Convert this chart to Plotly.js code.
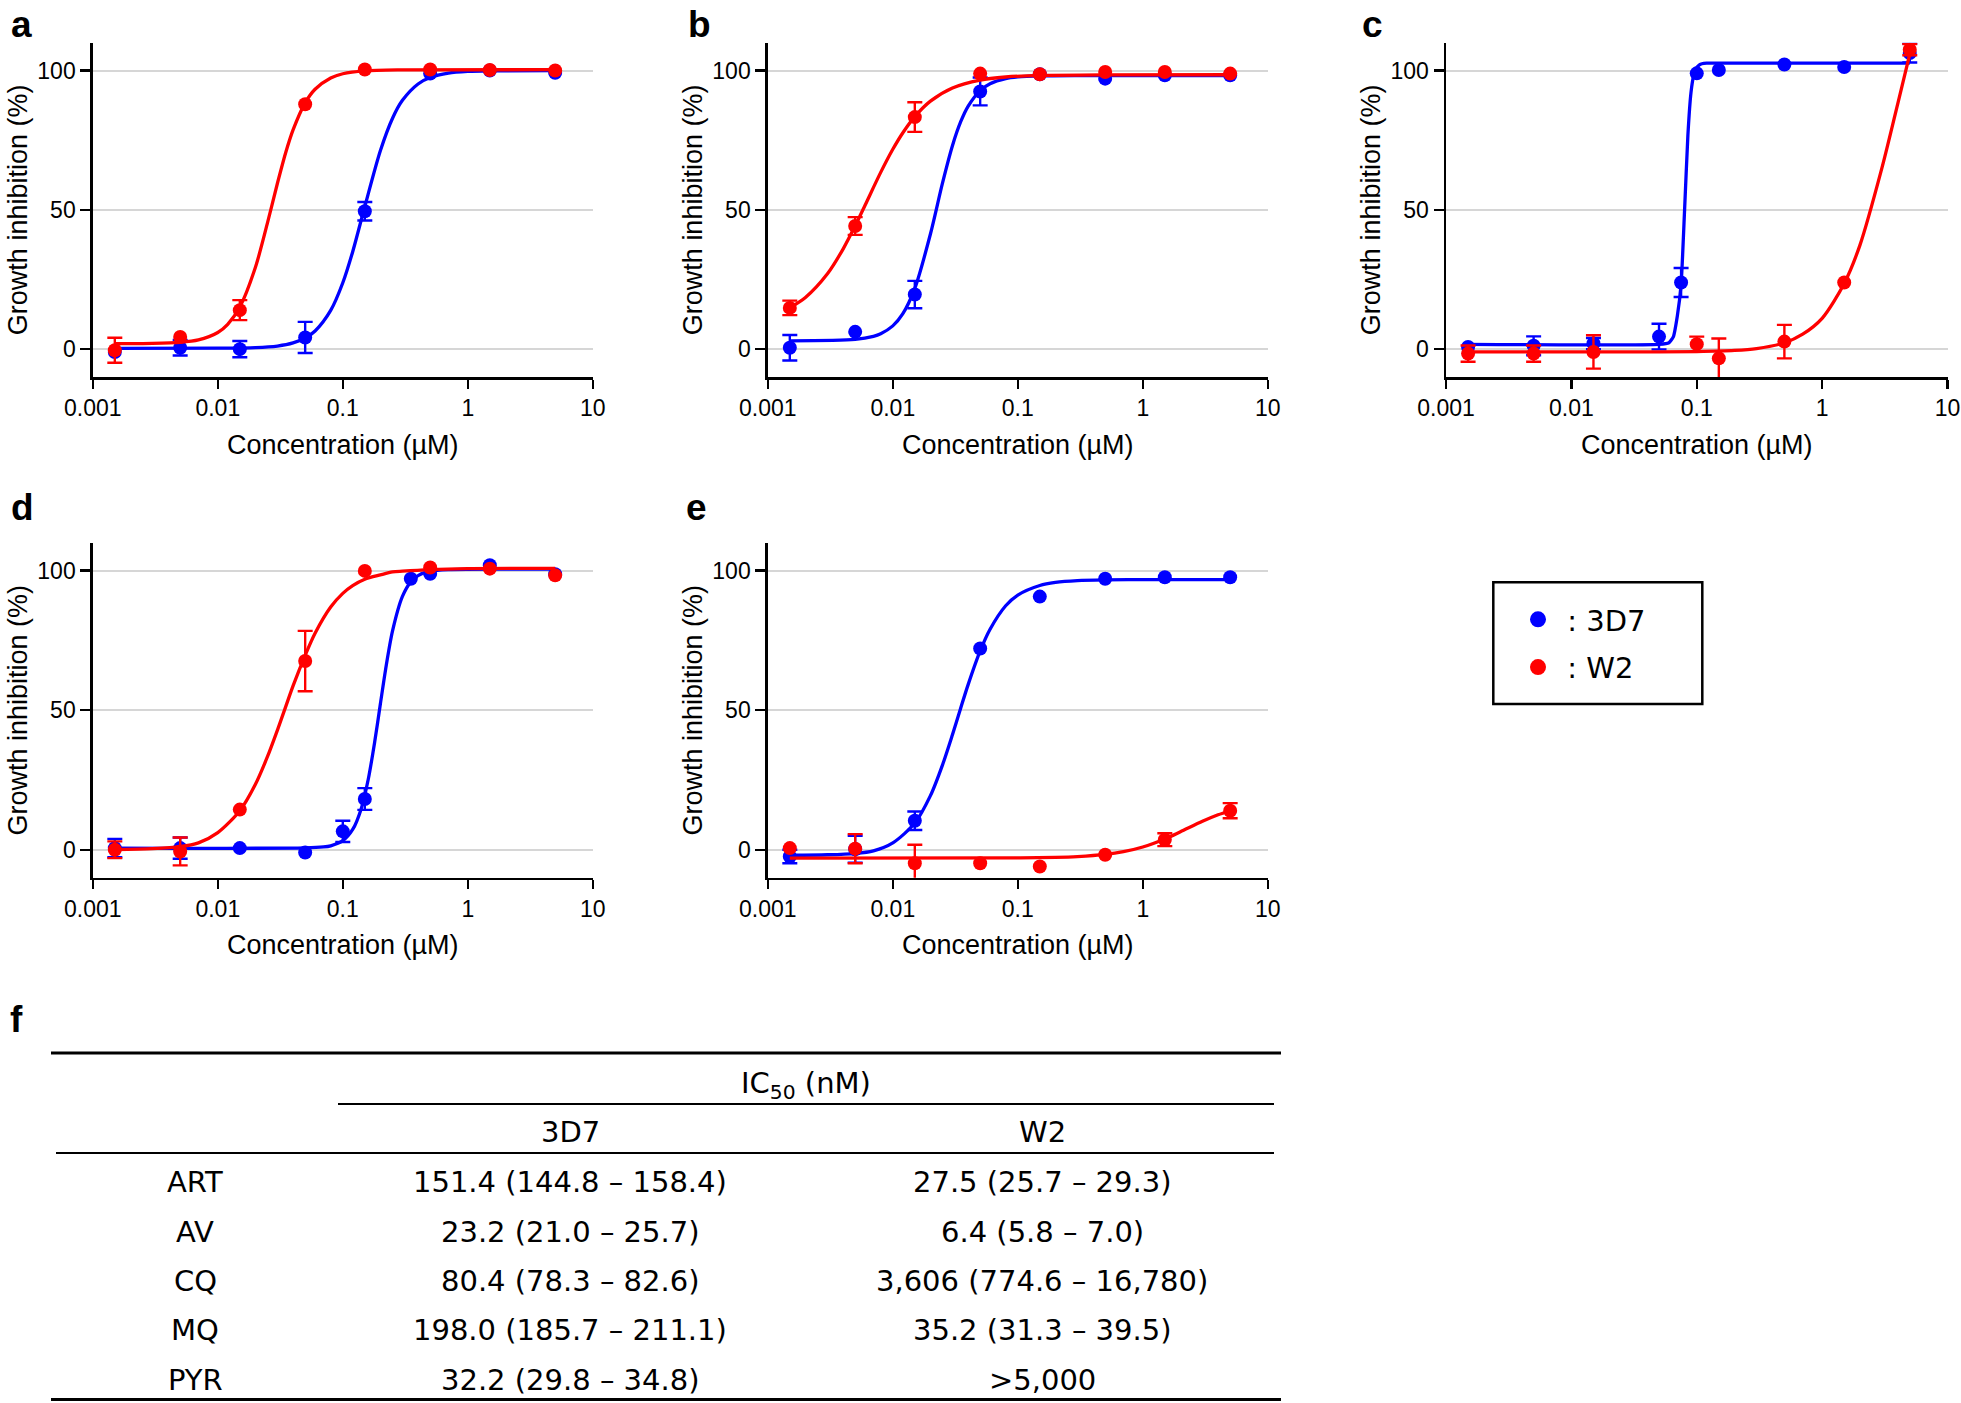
<!DOCTYPE html>
<html>
<head>
<meta charset="utf-8">
<script src="https://cdn.plot.ly/plotly-3.0.1.min.js"></script>
<style>
html,body{margin:0;padding:0;background:#ffffff;}
#chart{width:1961px;height:1403px;}
</style>
</head>
<body>
<div id="chart"></div>
<script>
// ===================== DATA =====================
const strains = ['3D7', 'W2'];
const conc = [0.0015, 0.005, 0.015, 0.05, 0.15, 0.5, 1.5, 5];

// a: ART
const art3D7 = [-1, 0.5, 0, 4.2, 49.5, 98.9, 100, 99.2];
const art3D7Err = [NaN, 2.8, 2.9, 5.6, 3.3, NaN, NaN, NaN];
const artW2 = [-0.4, 4.4, 14.0, 87.9, 100.4, 100.4, 100.2, 100];
const artW2Err = [4.5, NaN, 3.6, NaN, NaN, NaN, NaN, NaN];
const fitXart3D7 = [0.0015, 0.01, 0.02, 0.03, 0.04, 0.05, 0.06, 0.08, 0.1, 0.12, 0.15, 0.2, 0.25, 0.3, 0.4, 0.5, 0.7, 1, 1.5, 5];
const fitYart3D7 = [0.3, 0.33, 0.55, 1.12, 2.23, 4.01, 6.53, 13.91, 23.84, 34.98, 51.19, 71.29, 82.9, 89.32, 95.19, 97.48, 99.07, 99.68, 99.9, 100];
const fitXartW2 = [0.0015, 0.003, 0.005, 0.007, 0.01, 0.012, 0.015, 0.02, 0.025, 0.03, 0.035, 0.04, 0.05, 0.06, 0.08, 0.1, 0.15, 0.3, 5];
const fitYartW2 = [2.0, 2.09, 2.45, 3.30, 5.97, 8.88, 15.10, 29.40, 45.40, 59.55, 70.67, 78.69, 88.41, 93.28, 97.33, 98.85, 99.9, 100.25, 100.3];

// b: AV
const av3D7 = [0.5, 6.2, 19.6, 92.5, 98.7, 97.1, 98.3, 98.3];
const av3D7Err = [4.6, NaN, 4.9, 5.0, NaN, NaN, NaN, NaN];
const avW2 = [14.8, 44.2, 83.3, 98.9, 98.7, 99.5, 99.5, 98.9];
const avW2Err = [2.6, 3.2, 5.3, NaN, NaN, NaN, NaN, NaN];
const fitXav3D7 = [0.0015, 0.005, 0.007, 0.008, 0.01, 0.012, 0.015, 0.02, 0.025, 0.03, 0.035, 0.04, 0.05, 0.06, 0.08, 0.1, 0.15, 0.3, 5];
const fitYav3D7 = [3.0, 3.5, 4.6, 5.52, 8.35, 12.63, 21.8, 41.33, 59.70, 73.04, 81.72, 87.16, 92.81, 95.27, 97.11, 97.7, 98.07, 98.2, 98.2];
const fitXavW2 = [0.0015, 0.002, 0.003, 0.004, 0.005, 0.006, 0.008, 0.01, 0.012, 0.015, 0.02, 0.03, 0.05, 0.08, 0.15, 0.5, 5];
const fitYavW2 = [14.87, 18.55, 27.05, 35.92, 44.26, 51.66, 63.45, 71.74, 77.6, 83.49, 89.03, 93.77, 96.6, 97.69, 98.25, 98.48, 98.5];

// c: CQ
const cqConc3D7 = [0.0015, 0.005, 0.015, 0.05, 0.075, 0.1, 0.15, 0.5, 1.5, 5];
const cq3D7 = [0.8, 1.2, 2.0, 4.5, 23.9, 99.0, 100.2, 102.2, 101.3, 106.3];
const cq3D7Err = [NaN, 3.4, 2.0, 4.6, 5.2, NaN, NaN, NaN, NaN, 3.4];
const cqConcW2 = [0.0015, 0.005, 0.015, 0.1, 0.15, 0.5, 1.5, 5];
const cqW2 = [-1.6, -1.6, -1.0, 1.8, -3.3, 2.7, 23.9, 107.5];
const cqW2Err = [2.9, 2.9, 6.0, 2.7, 7.1, 6.0, NaN, 2.0];
const fitXcq3D7 = [0.0015, 0.05, 0.06, 0.065, 0.07, 0.075, 0.08, 0.085, 0.09, 0.095, 0.1, 0.105, 0.11, 0.12, 0.15, 5];
const fitYcq3D7 = [1.7, 1.7, 2.3, 4.4, 11.93, 23.19, 50.1, 76.84, 92.19, 98.67, 101.14, 102.08, 102.44, 102.65, 102.7, 102.7];
const fitXcqW2 = [0.0015, 0.05, 0.1, 0.2, 0.3, 0.5, 0.7, 1, 1.5, 2, 3, 4, 5];
const fitYcqW2 = [-1.0, -0.96, -0.86, -0.46, 0.21, 2.26, 5.37, 11.06, 23.58, 37.25, 65.05, 87.88, 105.88];

// d: MQ
const mqConc3D7 = [0.0015, 0.005, 0.015, 0.05, 0.1, 0.15, 0.35, 0.5, 1.5, 5];
const mq3D7 = [0.6, 0.6, 0.6, -1.0, 6.6, 18.2, 97.1, 98.9, 101.9, 98.7];
const mq3D7Err = [3.3, 3.8, NaN, NaN, 3.8, 3.9, NaN, NaN, NaN, NaN];
const mqW2 = [0, -0.6, 14.4, 67.6, 99.9, 101.1, 100.7, 98.3];
const mqW2Err = [3.0, 5.0, NaN, 10.8, NaN, NaN, NaN, NaN];
const fitXmq3D7 = [0.0015, 0.05, 0.07, 0.08, 0.1, 0.12, 0.14, 0.16, 0.18, 0.2, 0.22, 0.25, 0.3, 0.35, 0.4, 0.5, 0.7, 5];
const fitYmq3D7 = [0.6, 0.67, 1.01, 1.43, 3.26, 7.27, 14.56, 25.37, 38.67, 52.38, 64.61, 78.38, 90.74, 95.95, 98.2, 99.78, 100.38, 100.5];
const fitXmqW2 = [0.0015, 0.003, 0.005, 0.007, 0.01, 0.015, 0.02, 0.025, 0.03, 0.035, 0.04, 0.05, 0.06, 0.08, 0.1, 0.12, 0.15, 0.2, 0.25, 0.3, 0.5, 1, 5];
const fitYmqW2 = [0.09, 0.42, 1.12, 2.47, 6.14, 13.99, 23.47, 33.42, 42.88, 51.38, 58.71, 69.67, 77.59, 86.97, 91.86, 94.64, 96.93, 98.47, 99.51, 99.8, 100.39, 100.74, 100.8];

// e: PYR
const pyr3D7 = [-2.4, 0.2, 10.4, 72.1, 90.7, 97.1, 97.6, 97.6];
const pyr3D7Err = [2.4, 4.8, 3.3, NaN, NaN, NaN, NaN, NaN];
const pyrW2 = [0.6, 0.4, -4.8, -4.8, -6.0, -1.8, 3.6, 14.0];
const pyrW2Err = [NaN, 5.2, 6.6, NaN, NaN, NaN, 2.3, 2.7];
const fitXpyr3D7 = [0.0015, 0.003, 0.005, 0.007, 0.01, 0.015, 0.02, 0.025, 0.03, 0.035, 0.04, 0.05, 0.06, 0.08, 0.1, 0.15, 0.2, 0.3, 0.5, 1, 5];
const fitYpyr3D7 = [-1.96, -1.78, -1.34, -0.39, 2.46, 9.57, 19.39, 30.43, 41.19, 50.88, 59.07, 71.21, 78.99, 87.42, 91.24, 94.67, 95.77, 96.43, 96.69, 96.79, 96.8];
const fitXpyrW2 = [0.0015, 0.1, 0.2, 0.3, 0.5, 0.7, 1, 1.5, 2, 3, 4, 5];
const fitYpyrW2 = [-3, -2.92, -2.73, -2.45, -1.67, -0.69, 0.99, 3.87, 6.44, 10.2, 12.53, 14.0];

// Axis ticks
const xTickVals = [0.001, 0.01, 0.1, 1, 10];
const xTickText = ['0.001', '0.01', '0.1', '1', '10'];
const yTickVals = [0, 50, 100];
const yTickText = ['0', '50', '100'];

// Table f
const drugs = ['ART', 'AV', 'CQ', 'MQ', 'PYR'];
const ic50_3D7 = ['151.4 (144.8 – 158.4)', '23.2 (21.0 – 25.7)', '80.4 (78.3 – 82.6)', '198.0 (185.7 – 211.1)', '32.2 (29.8 – 34.8)'];
const ic50_W2 = ['27.5 (25.7 – 29.3)', '6.4 (5.8 – 7.0)', '3,606 (774.6 – 16,780)', '35.2 (31.3 – 39.5)', '&gt;5,000'];

// ===================== STYLE / LAYOUT =====================
const W = 1961, H = 1403;
const px = v => v / W;
const py = v => 1 - v / H;
const BLUE = '#0000FF', RED = '#FF0000';
const COLORS = [BLUE, RED];
const AX_FONT = 'Liberation Sans, Arial, sans-serif';
const TB_FONT = 'DejaVu Sans, Verdana, sans-serif';

const colX = [[px(92.8), px(592.8)], [px(767.8), px(1267.8)], [px(1446), px(1947.5)]];
const rowY = [[py(377), py(42.7)], [py(877.7), py(542.7)]];

const panels = [
  {letter: 'a', col: 0, row: 0, lx: 9, lb: 37,
   c3: conc, v3: art3D7, e3: art3D7Err, cW: conc, vW: artW2, eW: artW2Err,
   fx3: fitXart3D7, fy3: fitYart3D7, fxW: fitXartW2, fyW: fitYartW2},
  {letter: 'b', col: 1, row: 0, lx: 686, lb: 37,
   c3: conc, v3: av3D7, e3: av3D7Err, cW: conc, vW: avW2, eW: avW2Err,
   fx3: fitXav3D7, fy3: fitYav3D7, fxW: fitXavW2, fyW: fitYavW2},
  {letter: 'c', col: 2, row: 0, lx: 1360, lb: 37,
   c3: cqConc3D7, v3: cq3D7, e3: cq3D7Err, cW: cqConcW2, vW: cqW2, eW: cqW2Err,
   fx3: fitXcq3D7, fy3: fitYcq3D7, fxW: fitXcqW2, fyW: fitYcqW2, smooth3: 0.5},
  {letter: 'd', col: 0, row: 1, lx: 9, lb: 520,
   c3: mqConc3D7, v3: mq3D7, e3: mq3D7Err, cW: conc, vW: mqW2, eW: mqW2Err,
   fx3: fitXmq3D7, fy3: fitYmq3D7, fxW: fitXmqW2, fyW: fitYmqW2},
  {letter: 'e', col: 1, row: 1, lx: 684, lb: 520,
   c3: conc, v3: pyr3D7, e3: pyr3D7Err, cW: conc, vW: pyrW2, eW: pyrW2Err,
   fx3: fitXpyr3D7, fy3: fitYpyr3D7, fxW: fitXpyrW2, fyW: fitYpyrW2}
];

const traces = [];
const layout = {
  width: W, height: H,
  margin: {l: 0, r: 0, t: 0, b: 0, pad: 0},
  paper_bgcolor: '#ffffff', plot_bgcolor: '#ffffff',
  font: {family: AX_FONT, color: '#000000'},
  showlegend: true,
  legend: {
    x: px(1518), y: py(594), xanchor: 'left', yanchor: 'top',
    bgcolor: 'rgba(0,0,0,0)', borderwidth: 0,
    font: {family: TB_FONT, size: 29, color: '#000000'},
    itemsizing: 'trace', traceorder: 'grouped', tracegroupgap: 7
  },
  annotations: [],
  shapes: []
};

panels.forEach((p, i) => {
  const s = i === 0 ? '' : String(i + 1);
  const xa = 'x' + s, ya = 'y' + s;
  const series = [
    {cx: p.c3, v: p.v3, e: p.e3, fx: p.fx3, fy: p.fy3, color: BLUE, sm: p.smooth3 || 0.8},
    {cx: p.cW, v: p.vW, e: p.eW, fx: p.fxW, fy: p.fyW, color: RED, sm: 0.8}
  ];
  series.forEach(sr => {
    traces.push({
      type: 'scatter', mode: 'lines', x: sr.fx, y: sr.fy, xaxis: xa, yaxis: ya,
      line: {color: sr.color, width: 3.3, shape: 'spline', smoothing: sr.sm},
      showlegend: false, hoverinfo: 'skip'
    });
    traces.push({
      type: 'scatter', mode: 'markers', x: sr.cx, y: sr.v, xaxis: xa, yaxis: ya,
      marker: {color: sr.color, size: 14, line: {width: 0}},
      error_y: {type: 'data', array: sr.e, symmetric: true, visible: true,
                color: sr.color, thickness: 2.4, width: 7.5},
      showlegend: false, hoverinfo: 'skip'
    });
  });

  layout['xaxis' + s] = {
    domain: colX[p.col], anchor: ya, type: 'log', range: [-3, 1],
    tickmode: 'array', tickvals: xTickVals, ticktext: xTickText,
    showline: true, linecolor: '#000000', linewidth: 2.5, mirror: false,
    ticks: 'outside', ticklen: 9, tickwidth: 2.5, tickcolor: '#000000',
    showgrid: false, zeroline: false,
    tickfont: {family: AX_FONT, size: 23, color: '#000000'},
    title: {text: 'Concentration (µM)', font: {family: AX_FONT, size: 27, color: '#000000'}, standoff: 15}
  };
  layout['yaxis' + s] = {
    domain: rowY[p.row], anchor: xa, range: [-10, 110],
    tickmode: 'array', tickvals: yTickVals, ticktext: yTickText,
    showline: true, linecolor: '#000000', linewidth: 2.5, mirror: false,
    ticks: 'outside', ticklen: 10, tickwidth: 2.5, tickcolor: '#000000',
    showgrid: true, gridcolor: '#d6d6d6', gridwidth: 2, zeroline: false,
    tickfont: {family: AX_FONT, size: 23, color: '#000000'},
    title: {text: 'Growth inhibition (%)', font: {family: AX_FONT, size: 27, color: '#000000'}}
  };
  layout.annotations.push({
    xref: 'paper', yref: 'paper', x: px(p.lx), y: py(p.lb - 12.5),
    xanchor: 'left', yanchor: 'middle', showarrow: false,
    text: '<b>' + p.letter + '</b>', font: {family: AX_FONT, size: 37, color: '#000000'}
  });
});

// Legend entries (legend-only traces, one per strain)
strains.forEach((st, k) => {
  traces.push({
    type: 'scatter', mode: 'markers', x: [null], y: [null], xaxis: 'x', yaxis: 'y',
    marker: {color: COLORS[k], size: 21},
    name: '\u00A0: ' + st, legendgroup: 'g' + st, showlegend: true, hoverinfo: 'skip'
  });
});

// Legend frame
layout.shapes.push({type: 'rect', xref: 'paper', yref: 'paper',
  x0: px(1493.3), x1: px(1702.3), y0: py(704), y1: py(582.3),
  line: {color: '#000000', width: 2.5}, fillcolor: 'rgba(0,0,0,0)'});

// ===================== TABLE f =====================
layout.annotations.push({
  xref: 'paper', yref: 'paper', x: px(8), y: py(1032 - 12.5), xanchor: 'left', yanchor: 'middle',
  showarrow: false, text: '<b>f</b>', font: {family: AX_FONT, size: 37, color: '#000000'}
});
const rules = [
  {x0: 51, x1: 1281, y: 1053, w: 3},
  {x0: 338, x1: 1274, y: 1104, w: 1.8},
  {x0: 56, x1: 1274, y: 1153, w: 1.8},
  {x0: 51, x1: 1281, y: 1399.5, w: 3}
];
rules.forEach(r => layout.shapes.push({type: 'line', xref: 'paper', yref: 'paper',
  x0: px(r.x0), x1: px(r.x1), y0: py(r.y), y1: py(r.y), line: {color: '#000000', width: r.w}}));

const tfont = {family: TB_FONT, size: 29, color: '#000000'};
function tText(x, y, text) {
  layout.annotations.push({xref: 'paper', yref: 'paper', x: px(x), y: py(y),
    xanchor: 'center', yanchor: 'middle', showarrow: false, text: text, font: tfont});
}
tText(806, 1085, 'IC<sub>50</sub> (nM)');
tText(570, 1132, strains[0]);
tText(1042, 1132, strains[1]);
const rowYs = [1182, 1232, 1281, 1330, 1380];
drugs.forEach((d, k) => {
  tText(195, rowYs[k], d);
  tText(570, rowYs[k], ic50_3D7[k]);
  tText(1042, rowYs[k], ic50_W2[k]);
});

Plotly.newPlot('chart', traces, layout, {displayModeBar: false, staticPlot: true});
</script>
</body>
</html>
